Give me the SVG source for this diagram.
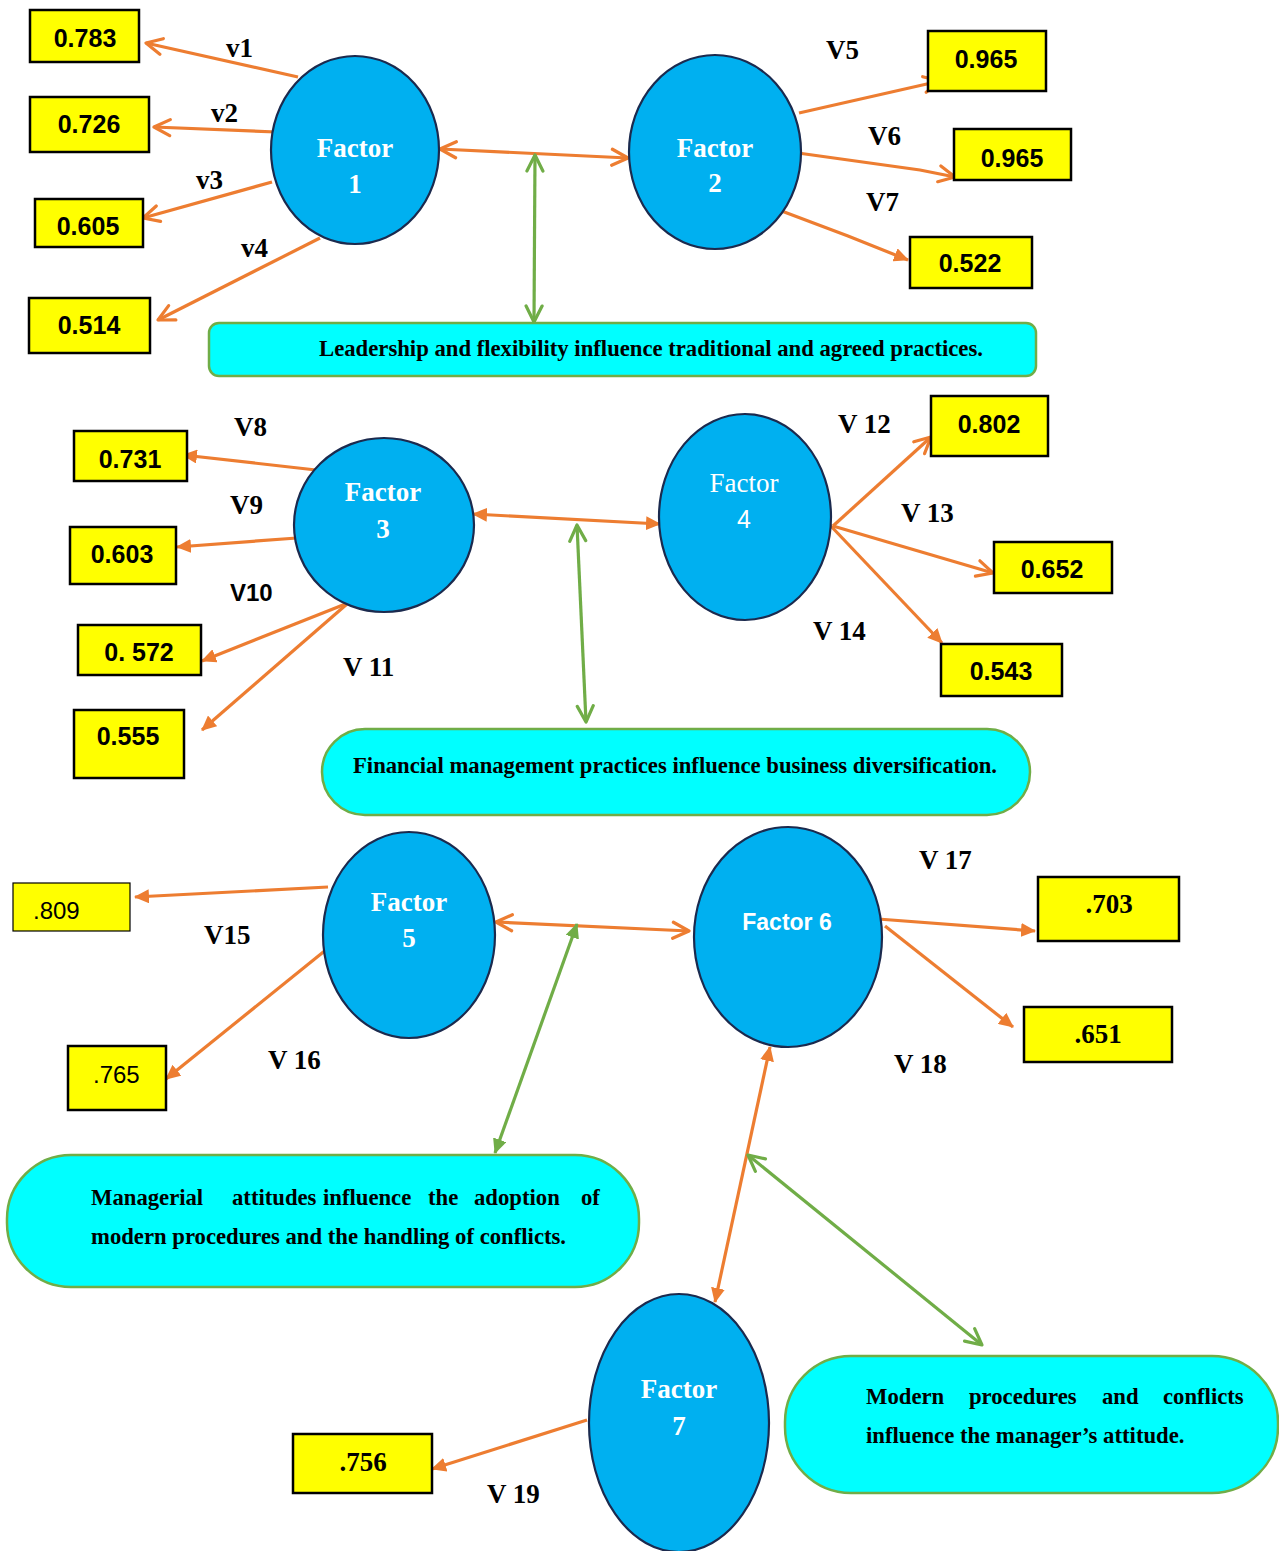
<svg xmlns="http://www.w3.org/2000/svg" width="1279" height="1551" viewBox="0 0 1279 1551">
<style>
.bg{fill:#ffffff}
.fac{fill:#00B0F0;stroke:#1B2A4E;stroke-width:2.2}
.ft{font-family:"Liberation Serif","Times New Roman",serif;font-weight:bold;font-size:27px;fill:#ffffff;text-anchor:middle}
.box{fill:#FFFF00;stroke:#000000;stroke-width:2.5}
.val{font-family:"Liberation Sans",Arial,sans-serif;font-weight:bold;font-size:25px;fill:#000;text-anchor:middle}
.valr{font-family:"Liberation Sans",Arial,sans-serif;font-size:24px;fill:#000}
.vals{font-family:"Liberation Serif","Times New Roman",serif;font-weight:bold;font-size:27px;fill:#000;text-anchor:middle}
.lbl{font-family:"Liberation Serif","Times New Roman",serif;font-weight:bold;font-size:27px;fill:#000}
.cap{fill:#00FFFF;stroke:#70AD47;stroke-width:2.5}
.ct{font-family:"Liberation Serif","Times New Roman",serif;font-weight:bold;font-size:22.7px;fill:#000}
.o{stroke:#ED7D31;stroke-width:3.2;fill:none}
.g{stroke:#70AD47;stroke-width:3.2;fill:none}
</style>
<defs>
<marker id="oo" viewBox="0 0 20 20" refX="18" refY="10" markerWidth="20" markerHeight="20" markerUnits="userSpaceOnUse" orient="auto-start-reverse"><path d="M2,2 L18,10 L2,18" fill="none" stroke="#ED7D31" stroke-width="3.2" stroke-linecap="round" stroke-linejoin="round"/></marker>
<marker id="of" viewBox="0 0 16 14" refX="14" refY="7" markerWidth="16" markerHeight="14" markerUnits="userSpaceOnUse" orient="auto-start-reverse"><path d="M0,0 L15,7 L0,14 z" fill="#ED7D31"/></marker>
<marker id="go" viewBox="0 0 20 20" refX="18" refY="10" markerWidth="20" markerHeight="20" markerUnits="userSpaceOnUse" orient="auto-start-reverse"><path d="M2,2 L18,10 L2,18" fill="none" stroke="#70AD47" stroke-width="3.2" stroke-linecap="round" stroke-linejoin="round"/></marker>
<marker id="gf" viewBox="0 0 16 14" refX="14" refY="7" markerWidth="16" markerHeight="14" markerUnits="userSpaceOnUse" orient="auto-start-reverse"><path d="M0,0 L15,7 L0,14 z" fill="#70AD47"/></marker>
</defs>
<rect class="bg" x="0" y="0" width="1279" height="1551"/>

<g id="connectors">
<line class="o" x1="298" y1="77" x2="146" y2="43" marker-end="url(#oo)"/>
<line class="o" x1="276" y1="132" x2="154" y2="127" marker-end="url(#oo)"/>
<line class="o" x1="272" y1="182" x2="143" y2="218" marker-end="url(#oo)"/>
<line class="o" x1="320" y1="238" x2="158" y2="320" marker-end="url(#oo)"/>
<line class="o" x1="440" y1="149" x2="628" y2="158" marker-start="url(#oo)" marker-end="url(#oo)"/>
<line class="g" x1="535" y1="155" x2="534" y2="322" marker-start="url(#go)" marker-end="url(#go)"/>
<line class="o" x1="799" y1="113" x2="940" y2="81" marker-end="url(#oo)"/>
<polyline class="o" points="798,153 920,170 955,177" marker-end="url(#oo)"/>
<polyline class="o" points="771,207 848,236 908,260" marker-end="url(#of)"/>

<line class="o" x1="316" y1="470" x2="183" y2="455" marker-end="url(#of)"/>
<line class="o" x1="297" y1="538" x2="177" y2="547" marker-end="url(#of)"/>
<line class="o" x1="348" y1="603" x2="202" y2="661" marker-end="url(#of)"/>
<line class="o" x1="347" y1="604" x2="202" y2="730" marker-end="url(#of)"/>
<line class="o" x1="473" y1="514" x2="660" y2="524" marker-start="url(#of)" marker-end="url(#of)"/>
<line class="g" x1="577" y1="525" x2="586" y2="722" marker-start="url(#go)" marker-end="url(#go)"/>
<line class="o" x1="833" y1="526" x2="931" y2="437" marker-end="url(#oo)"/>
<line class="o" x1="833" y1="526" x2="993" y2="573" marker-end="url(#oo)"/>
<line class="o" x1="828" y1="523" x2="942" y2="643" marker-end="url(#of)"/>

<line class="o" x1="328" y1="887" x2="135" y2="897" marker-end="url(#of)"/>
<line class="o" x1="332" y1="945" x2="166" y2="1079" marker-end="url(#of)"/>
<line class="o" x1="496" y1="922" x2="689" y2="931" marker-start="url(#oo)" marker-end="url(#oo)"/>
<line class="g" x1="577" y1="924" x2="495" y2="1153" marker-start="url(#gf)" marker-end="url(#gf)"/>
<line class="o" x1="878" y1="919" x2="1035" y2="931" marker-end="url(#of)"/>
<line class="o" x1="885" y1="926" x2="1013" y2="1027" marker-end="url(#of)"/>
<line class="o" x1="770" y1="1047" x2="715" y2="1302" marker-start="url(#of)" marker-end="url(#of)"/>
<line class="g" x1="748" y1="1155" x2="982" y2="1345" marker-start="url(#go)" marker-end="url(#go)"/>
<line class="o" x1="587" y1="1420" x2="432" y2="1469" marker-end="url(#of)"/>
</g>

<g id="factor1"><ellipse class="fac" cx="355" cy="150" rx="84" ry="94"/><text class="ft" x="355" y="157">Factor</text><text class="ft" x="355" y="193">1</text></g>
<g id="factor2"><ellipse class="fac" cx="715" cy="152" rx="86" ry="97"/><text class="ft" x="715" y="157">Factor</text><text class="ft" x="715" y="192">2</text></g>
<g id="factor3"><ellipse class="fac" cx="384" cy="525" rx="90" ry="87"/><text class="ft" x="383" y="501">Factor</text><text class="ft" x="383" y="538">3</text></g>
<g id="factor4"><ellipse class="fac" cx="745" cy="517" rx="86" ry="103"/><text class="ft" x="744" y="492" style="font-weight:normal">Factor</text><text x="744" y="528" style="font-family:'Liberation Sans',Arial,sans-serif;font-size:25px;fill:#fff;text-anchor:middle">4</text></g>
<g id="factor5"><ellipse class="fac" cx="409" cy="935" rx="86" ry="103"/><text class="ft" x="409" y="911">Factor</text><text class="ft" x="409" y="947">5</text></g>
<g id="factor6"><ellipse class="fac" cx="788" cy="937" rx="94" ry="110"/><text x="787" y="930" style="font-family:'Liberation Sans',Arial,sans-serif;font-weight:bold;font-size:23px;fill:#fff;text-anchor:middle">Factor 6</text></g>
<g id="factor7"><ellipse class="fac" cx="679" cy="1423" rx="90" ry="129"/><text class="ft" x="679" y="1398">Factor</text><text class="ft" x="679" y="1435">7</text></g>

<g id="values">
<g id="b0783"><rect class="box" x="30" y="10" width="109" height="52"/><text class="val" x="85" y="47">0.783</text></g>
<g id="b0726"><rect class="box" x="30" y="97" width="119" height="55"/><text class="val" x="89" y="133">0.726</text></g>
<g id="b0605"><rect class="box" x="35" y="199" width="108" height="48"/><text class="val" x="88" y="235">0.605</text></g>
<g id="b0514"><rect class="box" x="29" y="298" width="121" height="55"/><text class="val" x="89" y="334">0.514</text></g>
<g id="b0965a"><rect class="box" x="928" y="31" width="118" height="60"/><text class="val" x="986" y="68">0.965</text></g>
<g id="b0965b"><rect class="box" x="954" y="129" width="117" height="51"/><text class="val" x="1012" y="167">0.965</text></g>
<g id="b0522"><rect class="box" x="910" y="237" width="122" height="51"/><text class="val" x="970" y="272">0.522</text></g>
<g id="b0731"><rect class="box" x="74" y="431" width="113" height="50"/><text class="val" x="130" y="468">0.731</text></g>
<g id="b0603"><rect class="box" x="70" y="527" width="106" height="57"/><text class="val" x="122" y="563">0.603</text></g>
<g id="b0572"><rect class="box" x="78" y="625" width="123" height="50"/><text class="val" x="139" y="661">0. 572</text></g>
<g id="b0555"><rect class="box" x="74" y="710" width="110" height="68"/><text class="val" x="128" y="745">0.555</text></g>
<g id="b0802"><rect class="box" x="931" y="396" width="117" height="60"/><text class="val" x="989" y="433">0.802</text></g>
<g id="b0652"><rect class="box" x="994" y="542" width="118" height="51"/><text class="val" x="1052" y="578">0.652</text></g>
<g id="b0543"><rect class="box" x="941" y="644" width="121" height="52"/><text class="val" x="1001" y="680">0.543</text></g>
<g id="b809"><rect class="box" x="13" y="883" width="117" height="48" style="stroke-width:1.2"/><text class="valr" x="33" y="919">.809</text></g>
<g id="b765"><rect class="box" x="68" y="1046" width="98" height="64"/><text class="valr" x="93" y="1083">.765</text></g>
<g id="b703"><rect class="box" x="1038" y="877" width="141" height="64"/><text class="vals" x="1109" y="913">.703</text></g>
<g id="b651"><rect class="box" x="1024" y="1007" width="148" height="55"/><text class="vals" x="1098" y="1043">.651</text></g>
<g id="b756"><rect class="box" x="293" y="1434" width="139" height="59"/><text class="vals" x="363" y="1471">.756</text></g>
</g>

<g id="labels">
<text class="lbl" x="226" y="57">v1</text>
<text class="lbl" x="211" y="122">v2</text>
<text class="lbl" x="196" y="189">v3</text>
<text class="lbl" x="241" y="257">v4</text>
<text class="lbl" x="826" y="59">V5</text>
<text class="lbl" x="868" y="145">V6</text>
<text class="lbl" x="866" y="211">V7</text>
<text class="lbl" x="234" y="436">V8</text>
<text class="lbl" x="230" y="514">V9</text>
<text x="230" y="601" style="font-family:'Liberation Sans',Arial,sans-serif;font-weight:bold;font-size:24px;fill:#000">V10</text>
<text class="lbl" x="343" y="676">V 11</text>
<text class="lbl" x="838" y="433">V 12</text>
<text class="lbl" x="901" y="522">V 13</text>
<text class="lbl" x="813" y="640">V 14</text>
<text class="lbl" x="204" y="944">V15</text>
<text class="lbl" x="268" y="1069">V 16</text>
<text class="lbl" x="919" y="869">V 17</text>
<text class="lbl" x="894" y="1073">V 18</text>
<text class="lbl" x="487" y="1503">V 19</text>
</g>

<g id="caption1"><rect class="cap" x="209" y="323" width="827" height="53" rx="10"/><text class="ct" x="651" y="356" text-anchor="middle">Leadership and flexibility influence traditional and agreed practices.</text></g>
<g id="caption2"><rect class="cap" x="322" y="729" width="708" height="86" rx="43"/><text class="ct" x="675" y="773" text-anchor="middle">Financial management practices influence business diversification.</text></g>
<g id="caption3"><rect class="cap" x="7" y="1155" width="632" height="132" rx="64"/>
<text class="ct" y="1205"><tspan x="91">Managerial</tspan><tspan x="232">attitudes</tspan><tspan x="323">influence</tspan><tspan x="428">the</tspan><tspan x="474">adoption</tspan><tspan x="581">of</tspan></text>
<text class="ct" x="91" y="1244">modern procedures and the handling of conflicts.</text></g>
<g id="caption4"><rect class="cap" x="785" y="1356" width="493" height="137" rx="66"/>
<text class="ct" y="1404"><tspan x="866">Modern</tspan><tspan x="969">procedures</tspan><tspan x="1102">and</tspan><tspan x="1163">conflicts</tspan></text>
<text class="ct" x="866" y="1443">influence the manager’s attitude.</text></g>
</svg>
